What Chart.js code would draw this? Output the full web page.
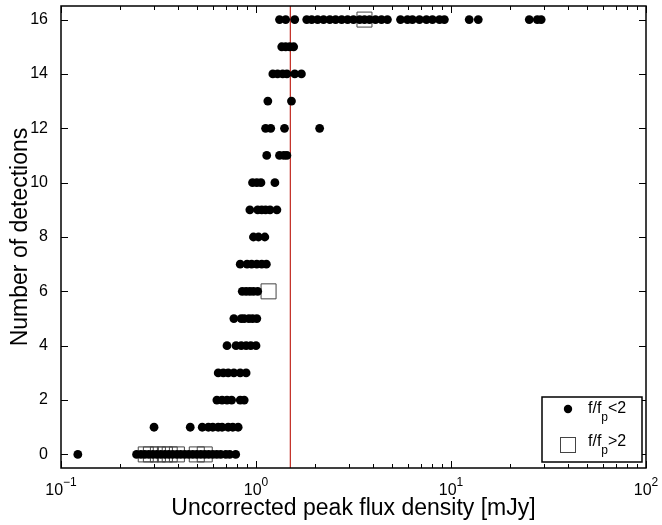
<!DOCTYPE html>
<html>
<head>
<meta charset="utf-8">
<script src="https://cdn.jsdelivr.net/npm/chart.js@4.4.0/dist/chart.umd.min.js"></script>
<style>
  html, body { margin: 0; padding: 0; background: #fff; }
</style>
</head>
<body>
<canvas id="detChart" width="662" height="525"></canvas>
<script>
/* peak flux (mJy) of the f/fp<2 sources, one list per number of detections */
const flux0 = [0.122, 0.244, 0.257, 0.269, 0.282, 0.296, 0.310, 0.325, 0.341, 0.357, 0.374, 0.393, 0.411,
  0.431, 0.452, 0.474, 0.497, 0.521, 0.546, 0.572, 0.600, 0.629, 0.659, 0.700, 0.733, 0.787];
const flux1 = [0.30, 0.46, 0.53, 0.57, 0.60, 0.64, 0.67, 0.72, 0.76, 0.81];
const flux2 = [0.63, 0.67, 0.71, 0.75, 0.83, 0.87];
const flux3 = [0.64, 0.68, 0.72, 0.77, 0.83, 0.89];
const flux4 = [0.71, 0.79, 0.84, 0.89, 0.94, 1.00];
const flux5 = [0.77, 0.84, 0.87, 0.92, 0.96, 1.01];
const flux6 = [0.85, 0.89, 0.93, 0.97, 1.02];
const flux7 = [0.83, 0.90, 0.95, 1.01, 1.07, 1.13];
const flux8 = [0.97, 1.03, 1.11];
const flux9 = [0.93, 1.02, 1.07, 1.12, 1.18, 1.28];
const flux10 = [0.96, 1.01, 1.06, 1.25];
const flux11 = [1.135, 1.32, 1.39, 1.44];
const flux12 = [1.12, 1.19, 1.40, 2.12];
const flux13 = [1.15, 1.52];
const flux14 = [1.22, 1.29, 1.37, 1.44, 1.58, 1.71];
const flux15 = [1.355, 1.42, 1.49, 1.56];
const flux16 = [1.32, 1.42, 1.58, 1.82, 1.93, 2.07, 2.22, 2.39, 2.56, 2.75, 2.95, 3.16, 3.40, 3.60,
  3.82, 4.10, 4.40, 4.72, 5.51, 5.98, 6.34, 6.89, 7.48, 8.03, 8.73, 9.25, 12.4, 13.8, 25.2, 27.7, 29.0];

/* f/fp>2 sources */
const wideFlux = [0.272, 0.289, 0.314, 0.341, 0.361, 0.393, 0.497, 0.546, 1.16, 3.60];
const wideCount = [0, 0, 0, 0, 0, 0, 0, 0, 6, 16];

const fluxLimit = 1.5;
const yTicks = [0, 2, 4, 6, 8, 10, 12, 14, 16];
const xDecades = [-1, 0, 1, 2];

const rows = [flux0, flux1, flux2, flux3, flux4, flux5, flux6, flux7, flux8,
  flux9, flux10, flux11, flux12, flux13, flux14, flux15, flux16];
const narrowPts = [];
rows.forEach((list, n) => list.forEach(f => narrowPts.push({x: f, y: n})));
const widePts = wideFlux.map((f, i) => ({x: f, y: wideCount[i]}));

const FONT = '"Liberation Sans", Arial, sans-serif';

/* box, inward ticks, x labels with exponents, legend */
const frame = {
  id: 'frame',
  afterDatasetsDraw(chart) {
    const {ctx, chartArea: a, scales: {x, y}} = chart;
    ctx.save();
    ctx.strokeStyle = '#000';
    ctx.lineWidth = 1;
    ctx.beginPath();
    xDecades.forEach(d => {
      for (let m = 1; m <= 9; m++) {
        const v = m * Math.pow(10, d);
        if (v > 100.0001) break;
        const px = Math.round(x.getPixelForValue(v)) + 0.5;
        const len = m === 1 ? 7 : 4;
        ctx.moveTo(px, a.bottom); ctx.lineTo(px, a.bottom - len);
        ctx.moveTo(px, a.top); ctx.lineTo(px, a.top + len);
      }
    });
    yTicks.forEach(v => {
      const py = Math.round(y.getPixelForValue(v)) + 0.5;
      ctx.moveTo(a.left, py); ctx.lineTo(a.left + 7, py);
      ctx.moveTo(a.right, py); ctx.lineTo(a.right - 7, py);
    });
    ctx.stroke();
    ctx.lineWidth = 1.5;
    ctx.strokeRect(a.left, a.top, a.right - a.left, a.bottom - a.top);

    // x tick labels 10^n
    ctx.fillStyle = '#000';
    ctx.textBaseline = 'alphabetic';
    ctx.textAlign = 'left';
    xDecades.forEach(d => {
      const px = x.getPixelForValue(Math.pow(10, d));
      const ex = String(d).replace('-', '\u2212');
      ctx.font = '16px ' + FONT;
      const wb = ctx.measureText('10').width;
      ctx.font = '12px ' + FONT;
      const we = ctx.measureText(ex).width;
      const x0 = px - (wb + we) / 2;
      ctx.font = '16px ' + FONT;
      ctx.fillText('10', x0, 495);
      ctx.font = '12px ' + FONT;
      ctx.fillText(ex, x0 + wb, 486);
    });

    // legend
    const lx = 542, ly = 397, lw = 100, lh = 65;
    ctx.fillStyle = '#fff';
    ctx.fillRect(lx, ly, lw, lh);
    ctx.strokeStyle = '#000';
    ctx.lineWidth = 1.5;
    ctx.strokeRect(lx, ly, lw, lh);
    ctx.fillStyle = '#000';
    ctx.beginPath();
    ctx.arc(568, 409, 4.2, 0, Math.PI * 2);
    ctx.fill();
    ctx.strokeStyle = '#444';
    ctx.lineWidth = 1;
    ctx.strokeRect(560.5, 437.5, 15, 15);
    const entry = (txt, base) => {
      let cx = 588;
      ctx.font = '16px ' + FONT;
      ctx.fillText('f/f', cx, base);
      cx += ctx.measureText('f/f').width;
      ctx.font = '12px ' + FONT;
      ctx.fillText('p', cx, base + 8);
      cx += ctx.measureText('p').width;
      ctx.font = '16px ' + FONT;
      ctx.fillText(txt, cx, base);
    };
    entry('<2', 413);
    entry('>2', 446);
    ctx.restore();
  }
};

const data = {
  datasets: [{
    label: 'f/fp<2',
    data: narrowPts,
    pointStyle: 'circle',
    pointRadius: 4.4,
    pointBackgroundColor: '#000',
    pointBorderWidth: 0,
    showLine: false
  }, {
    label: 'f/fp>2',
    data: widePts,
    pointStyle: 'rect',
    pointRadius: 10.6,
    pointBackgroundColor: 'rgba(0,0,0,0)',
    pointBorderColor: '#444',
    pointBorderWidth: 1,
    showLine: false
  }, {
    label: 'limit',
    data: [{x: fluxLimit, y: -0.5}, {x: fluxLimit, y: 16.5}],
    showLine: true,
    borderColor: '#c0281e',
    borderWidth: 1.2,
    pointRadius: 0
  }]
};

const config = {
  type: 'scatter',
  data: data,
  options: {
    responsive: false,
    animation: false,
    devicePixelRatio: 1,
    layout: {
      autoPadding: false,
      padding: { top: 6, right: 16, left: 0, bottom: 0 }
    },
    plugins: {
      legend: { display: false },
      tooltip: { enabled: false }
    },
    scales: {
      x: {
        type: 'logarithmic',
        min: 0.1,
        max: 100,
        grid: { display: false },
        border: { display: false },
        ticks: { display: false },
        title: {
          display: true,
          text: 'Uncorrected peak flux density [mJy]',
          color: '#000',
          font: { family: FONT, size: 23 },
          padding: { top: 0, bottom: 3 }
        },
        afterFit(s) { s.height = 57; s.paddingLeft = 0; s.paddingRight = 0; }
      },
      y: {
        min: -0.5,
        max: 16.5,
        grid: { display: false },
        border: { display: false },
        afterBuildTicks(s) { s.ticks = yTicks.map(v => ({value: v})); },
        ticks: {
          color: '#000',
          padding: 5,
          font: { family: FONT, size: 16 }
        },
        title: {
          display: true,
          text: 'Number of detections',
          color: '#000',
          font: { family: FONT, size: 23 },
          padding: { top: 7, bottom: 0 }
        },
        afterFit(s) { s.width = 61; s.paddingTop = 0; s.paddingBottom = 0; }
      }
    }
  },
  plugins: [frame]
};

var detChart = new Chart(document.getElementById('detChart'), config);
</script>
</body>
</html>
